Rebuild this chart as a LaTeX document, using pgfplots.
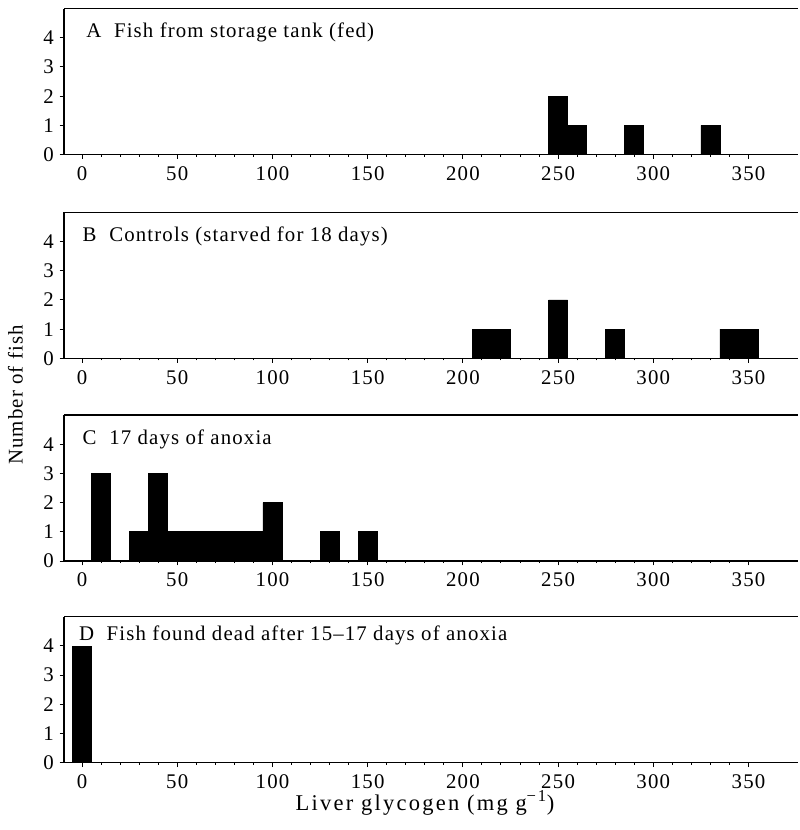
\documentclass[border=0pt]{standalone}
\usepackage{fontspec}
\setmainfont{Liberation Serif}
\newfontfamily\wide[LetterSpace=5.5]{Liberation Serif}
\newfontfamily\wider[LetterSpace=10]{Liberation Serif}
\newfontfamily\digits[LetterSpace=6]{Liberation Serif}
\usepackage{pgfplots}
\pgfplotsset{compat=1.18}
\pgfplotsset{panel/.style={
  scale only axis, width=440.4pt, height=87.6pt,
  xmin=-9.5, xmax=376, ymin=0, ymax=5,
  axis x line=box, axis y line=left, axis line style={-, line width=0.8pt},
  xtick={0,50,...,350}, ytick={0,1,2,3,4},
  minor x tick num=4,
  xtick pos=bottom, ytick pos=left,
  tick align=outside, major tick length=2.6pt, minor tick length=1.2pt,
  tick style={black, line width=0.6pt},
  /pgf/number format/assume math mode=true,
  tick label style={font=\fontsize{12.5}{14}\selectfont\digits},
  xticklabel style={yshift=-1pt},
  ybar, bar width=10, bar shift=0pt,
  clip=false,
  anchor=south west,
}}
\tikzset{ptitle/.style={anchor=base west, inner sep=0pt, font=\fontsize{12.5}{14}\selectfont\wide}}
\begin{document}
\begin{tikzpicture}
\useasboundingbox (0,0) rectangle (479.4pt,-498pt);
\begin{axis}[panel, at={(38.4pt,-92.7pt)}]
\addplot[fill=black, draw=black] coordinates {(250,2) (260,1) (290,1) (330,1)};
\node[ptitle] at (rel axis cs:0.03,0.8) {A\ \ Fish from storage tank (fed)};
\end{axis}
\begin{axis}[panel, at={(38.4pt,-215pt)}]
\addplot[fill=black, draw=black] coordinates {(210,1) (220,1) (250,2) (280,1) (340,1) (350,1)};
\node[ptitle] at (rel axis cs:0.025,0.8) {B\ \ Controls (starved for 18 days)};
\end{axis}
\begin{axis}[panel, at={(38.4pt,-336.6pt)}]
\addplot[fill=black, draw=black] coordinates {(10,3) (30,1) (40,3) (50,1) (60,1) (70,1) (80,1) (90,1) (100,2) (130,1) (150,1)};
\node[ptitle] at (rel axis cs:0.025,0.8) {C\ \ 17 days of anoxia};
\end{axis}
\begin{axis}[panel, at={(38.4pt,-457.6pt)}]
\addplot[fill=black, draw=black] coordinates {(0,4)};
\node[ptitle] at (rel axis cs:0.02,0.84) {D\ \ Fish found dead after 15–17 days of anoxia};
\end{axis}
\node[rotate=90, anchor=base, inner sep=0pt, font=\fontsize{12.5}{14}\selectfont\wide] at (13.6pt,-237pt) {Number of fish};
\node[anchor=base, inner sep=0pt, font=\fontsize{13.5}{15}\selectfont\wider] at (255pt,-486pt) {Liver glycogen (mg\,\,g\textsuperscript{\fontsize{10}{11}\selectfont −1})};
\end{tikzpicture}
\end{document}
